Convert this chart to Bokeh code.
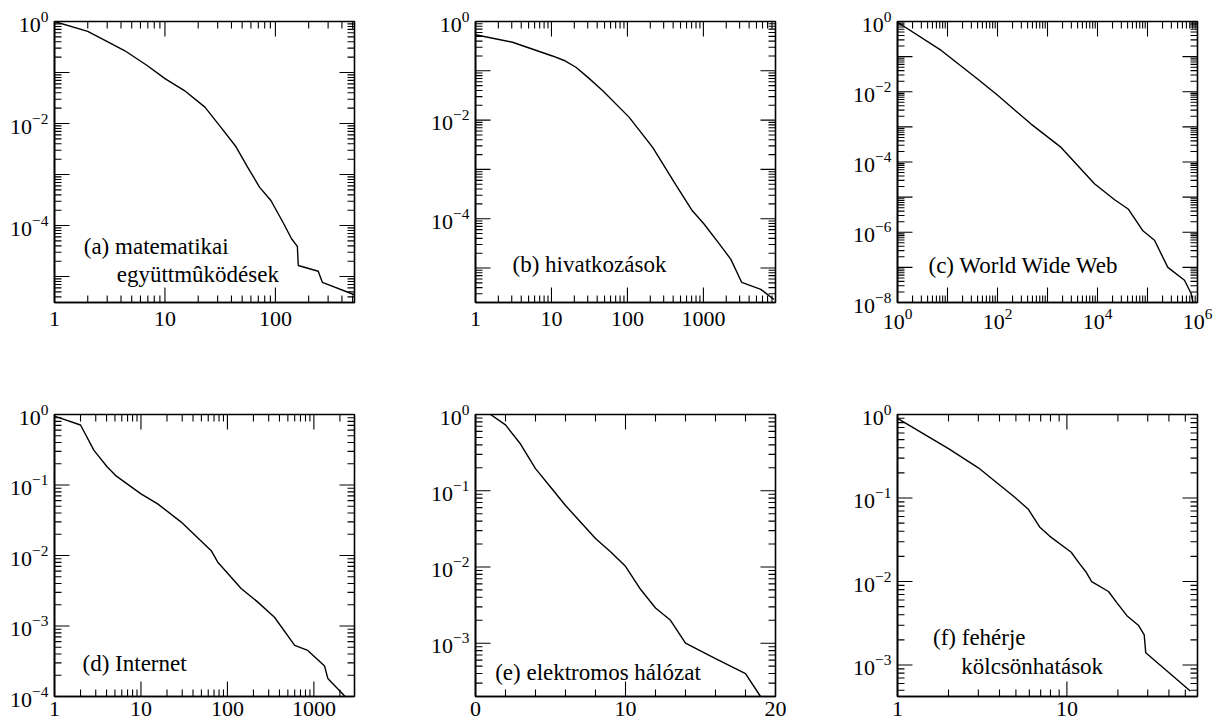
import math
import numpy as np
from bokeh.plotting import figure
from bokeh.layouts import column, row
from bokeh.models import Range1d, FixedTicker, LogTickFormatter, BasicTickFormatter, Label
from bokeh.embed import file_html
from bokeh.resources import INLINE

# ---------------- data ----------------
# (a) matematikai együttműködések
a_x = [1, 2, 4.3, 6.9, 10, 15, 23, 32, 44, 56, 72, 91, 117, 140, 158, 161, 244, 266, 519]
a_y = [1.0, 0.64, 0.27, 0.137, 0.076, 0.0443, 0.021, 0.0085, 0.0035, 0.0014, 5.6e-4, 3.1e-4,
       1.16e-4, 5.5e-5, 3.9e-5, 1.65e-5, 1.27e-5, 7.7e-6, 4.4e-6]
# (b) hivatkozások
b_x = [1, 3.07, 10.3, 14.7, 21, 31, 47, 105, 215, 430, 716, 1020, 1620, 2300, 3200, 5700, 8500]
b_y = [0.54, 0.38, 0.20, 0.162, 0.118, 0.071, 0.040, 0.0115, 0.0028, 5.0e-4, 1.45e-4, 7.8e-5,
       3.1e-5, 1.5e-5, 5.1e-6, 3.7e-6, 2.3e-6]
# (c) World Wide Web
c_x = [1, 7.5, 40, 102, 470, 1870, 8700, 22000, 41000, 81000, 138000, 255000, 550000,
       745000, 810000]
c_y = [0.95, 0.15, 0.023, 0.0078, 0.0012, 2.6e-4, 2.4e-5, 8.4e-6, 4.6e-6, 1.1e-6, 5.9e-7,
       1.0e-7, 4.3e-8, 1.8e-8, 1.0e-8]
# (d) Internet
d_x = [1, 2.0, 2.86, 4.08, 5.1, 10, 15.6, 29, 65, 77, 144, 223, 350, 600, 850, 1330, 1450, 2300]
d_y = [0.95, 0.71, 0.31, 0.18, 0.136, 0.075, 0.054, 0.030, 0.0117, 0.0081, 0.0034, 0.0022,
       0.00133, 5.3e-4, 4.5e-4, 2.7e-4, 1.8e-4, 1.0e-4]
# (e) elektromos hálózat
e_x = [1, 2, 3, 4, 5, 6, 7, 8, 9, 10, 11, 12, 13, 14, 16, 18, 19]
e_y = [1.0, 0.73, 0.41, 0.195, 0.112, 0.064, 0.039, 0.0236, 0.0158, 0.0102, 0.0051, 0.0029,
       0.0020, 0.001, 6.3e-4, 4.0e-4, 2.0e-4]
# (f) fehérje kölcsönhatások
f_x = [1, 2.0, 3.0, 4.9, 5.9, 6.9, 7.9, 10.6, 11.9, 12.9, 14.0, 17.6, 19.7, 22.6, 26.4, 28.6,
       29.2, 53.5]
f_y = [0.9, 0.39, 0.23, 0.103, 0.074, 0.045, 0.035, 0.0224, 0.0163, 0.0132, 0.010, 0.0076,
       0.0056, 0.0039, 0.0030, 0.0023, 0.0014, 4.9e-4]

labels_a = ["(a) matematikai", "együttmûködések"]
labels_b = ["(b) hivatkozások"]
labels_c = ["(c) World Wide Web"]
labels_d = ["(d) Internet"]
labels_e = ["(e) elektromos hálózat"]
labels_f = ["(f) fehérje", "kölcsönhatások"]

FONT = "Liberation Serif"
MAJ_LEN, MIN_LEN = 15, 7
FW = 300


def log_ticks(lo_exp, hi_exp):
    majors = [10.0 ** k for k in range(lo_exp, hi_exp + 1)]
    minors = [m * 10.0 ** k for k in range(lo_exp - 1, hi_exp + 1) for m in range(2, 10)]
    return majors, minors


def style_axis(ax, ticker, standoff):
    ax.ticker = ticker
    ax.axis_line_color = "black"
    ax.axis_line_width = 1.6
    ax.major_tick_line_color = None
    ax.minor_tick_line_color = None
    ax.major_tick_in = 0
    ax.major_tick_out = 0
    ax.minor_tick_in = 0
    ax.minor_tick_out = 0
    ax.major_label_text_font = FONT
    ax.major_label_text_font_size = "22px"
    ax.major_label_text_color = "black"
    ax.major_label_standoff = standoff


def shift(v, r, px, span_px, is_log):
    """Move value v by px screen pixels along an axis of range r spanning span_px pixels."""
    if is_log:
        dec = math.log10(r[1]) - math.log10(r[0])
        return v * 10 ** (px * dec / span_px)
    return v + px * (r[1] - r[0]) / span_px


def tick_path(xr, yr, x_log, xt, yt, fh):
    """Inward tick marks on all four frame sides, as one NaN-separated path."""
    def inside(vals, r):
        lo, hi = r
        return [v for v in vals if lo - 1e-12 <= v <= hi * (1 + 1e-9) + 1e-12]
    X, Y = [], []
    nan = float("nan")
    for vals, ln in ((inside(xt[0], xr), MAJ_LEN), (inside(xt[1], xr), MIN_LEN)):
        ybot = shift(yr[0], yr, ln, fh, True)
        ytop = shift(yr[1], yr, -ln, fh, True)
        for v in vals:
            X += [v, v, nan, v, v, nan]
            Y += [yr[0], ybot, nan, yr[1], ytop, nan]
    for vals, ln in ((inside(yt[0], yr), MAJ_LEN), (inside(yt[1], yr), MIN_LEN)):
        xl = shift(xr[0], xr, ln, FW, x_log)
        xrt = shift(xr[1], xr, -ln, FW, x_log)
        for v in vals:
            X += [xr[0], xl, nan, xr[1], xrt, nan]
            Y += [v, v, nan, v, v, nan]
    return np.array(X, dtype=float), np.array(Y, dtype=float)


def panel(xs, ys, xr, yr, x_log, xt, yt, x_fmt, x_over, y_over, texts,
          fh, bl, br, bt, bb, x_standoff):
    p = figure(frame_width=FW, frame_height=fh,
               x_axis_type="log" if x_log else "linear", y_axis_type="log",
               x_range=Range1d(*xr), y_range=Range1d(*yr),
               output_backend="svg", toolbar_location=None,
               min_border_left=bl, min_border_right=br,
               min_border_top=bt, min_border_bottom=bb)
    p.grid.visible = False
    p.outline_line_color = "black"
    p.outline_line_width = 1.6
    p.background_fill_color = "white"
    p.border_fill_color = "white"

    style_axis(p.xaxis[0], FixedTicker(ticks=xt[0], minor_ticks=[]), x_standoff)
    p.xaxis[0].formatter = x_fmt
    p.xaxis[0].major_label_overrides = x_over
    style_axis(p.yaxis[0], FixedTicker(ticks=yt[0], minor_ticks=[]), 6)
    p.yaxis[0].formatter = LogTickFormatter()
    p.yaxis[0].major_label_overrides = y_over

    p.line(xs, ys, line_color="black", line_width=1.4)

    TX, TY = tick_path(xr, yr, x_log, xt, yt, fh)
    p.line(TX, TY, line_color="black", line_width=1.1)

    for (tx, ty, txt) in texts:
        p.add_layout(Label(x=tx, y=ty, text=txt, text_font=FONT, text_font_size="23px",
                           text_color="black", text_baseline="alphabetic", text_align="left"))
    return p


def blank(vals):
    return {v: "" for v in vals}


xa = log_ticks(0, 2)
xb = log_ticks(0, 3)
xc = log_ticks(0, 6)
xd = log_ticks(0, 3)
xe = ([0, 10, 20], [2, 4, 6, 8, 12, 14, 16, 18])
xf = log_ticks(0, 1)

ya = log_ticks(-5, 0)
yb = log_ticks(-5, 0)
yc = log_ticks(-8, 0)
yd = log_ticks(-4, 0)
ye = log_ticks(-3, 0)
yf = log_ticks(-3, 0)

odd_a = blank([10.0 ** k for k in (-1, -3, -5)])
odd_c = blank([10.0 ** k for k in (-1, -3, -5, -7)])

R1H, R2H = 281, 282

pa = panel(a_x, a_y, (1, 520), (3.1e-6, 1), True, xa, ya, BasicTickFormatter(), {}, odd_a,
           [(1.84, 3.96e-5, labels_a[0]), (3.66, 1.1e-5, labels_a[1])],
           R1H, 54, 74, 21, 99, 9)
pb = panel(b_x, b_y, (1, 8900), (2.0e-6, 1), True, xb, yb, BasicTickFormatter(), {}, odd_a,
           [(3.07, 1.18e-5, labels_b[0])],
           R1H, 45, 75, 21, 99, 9)
pc = panel(c_x, c_y, (1, 1e6), (1e-8, 1), True, xc, yc, LogTickFormatter(),
           blank([10.0, 1000.0, 100000.0]), odd_c,
           [(4.17, 1.13e-7, labels_c[0])],
           R1H, 45, 22, 21, 99, 6)
pd = panel(d_x, d_y, (1, 2950), (1e-4, 1), True, xd, yd, BasicTickFormatter(), {}, {},
           [(2.11, 2.94e-4, labels_d[0])],
           R2H, 54, 74, 13, 29, 5)
pe = panel(e_x, e_y, (0, 20), (2.0e-4, 1), False, xe, ye, BasicTickFormatter(), {}, {},
           [(1.31, 4.11e-4, labels_e[0])],
           R2H, 45, 75, 13, 29, 5)
pf = panel(f_x, f_y, (1, 59), (4.2e-4, 1), True, xf, yf, BasicTickFormatter(), {}, {},
           [(1.62, 2.14e-3, labels_f[0]), (2.38, 9.5e-4, labels_f[1])],
           R2H, 45, 22, 13, 29, 5)

layout = column(row(pa, pb, pc), row(pd, pe, pf))

open("out.html", "w").write(file_html(layout, INLINE))
